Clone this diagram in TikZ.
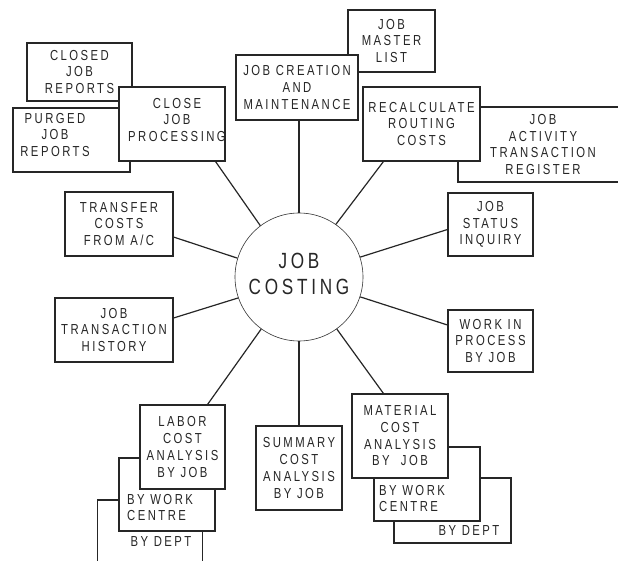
\documentclass[tikz,border=0pt]{standalone}
\usepackage{fontspec}
\newfontfamily\chartfont[LetterSpace=17,FakeStretch=0.78]{Liberation Sans}
\usetikzlibrary{positioning}

\begin{document}
\begin{tikzpicture}[x=1pt, y=-1pt,
    every node/.style={font=\chartfont\fontsize{14.5}{16.7}\selectfont, text=black!85},
    box/.style={draw=black!85, line width=1.1pt, fill=white, inner sep=0pt, align=center},
    txt/.style={align=center, inner sep=0pt},
    spoke/.style={draw=black!85, line width=1.2pt}]
  \useasboundingbox (0,0) rectangle (618,561);
  % hub
  \node[draw=black!80, line width=0.6pt, circle, minimum size=128pt, inner sep=0pt] (hub) at (299,277) {};
  \node[txt, font=\chartfont\fontsize{22}{26}\selectfont] (hubtxt) at (299,274) {JOB\\COSTING};
  % upper left
  \node[box, minimum width=105pt, minimum height=58pt] (closedrep) at (79.5,72) {CLOSED\\JOB\\REPORTS};
  \node[box, minimum width=117pt, minimum height=64pt] (purgedrep) at (71.5,140) {};
  \node[txt] (purgedtxt) at (55,135) {PURGED\\JOB\\REPORTS};
  \node[box, minimum width=106pt, minimum height=74pt] (closeproc) at (172,124) {};
  \node[txt] (closetxt) at (177,120) {CLOSE\\JOB\\PROCESSING};
  % top
  \node[box, minimum width=87pt, minimum height=62pt] (masterlist) at (391.5,41) {JOB\\MASTER\\LIST};
  \node[box, minimum width=122pt, minimum height=65pt] (creation) at (297,87.5) {JOB CREATION\\AND\\MAINTENANCE};
  \node[box, minimum width=170pt, minimum height=75pt] (register) at (543,144.5) {JOB\\ACTIVITY\\TRANSACTION\\REGISTER};
  \node[box, minimum width=117pt, minimum height=74pt] (recalc) at (421.5,124) {RECALCULATE\\ROUTING\\COSTS};
  % sides
  \node[box, minimum width=108pt, minimum height=64pt] (transfer) at (119,224) {TRANSFER\\COSTS\\FROM A/C};
  \node[box, minimum width=118pt, minimum height=64pt] (history) at (114,330) {JOB\\TRANSACTION\\HISTORY};
  \node[box, minimum width=85pt, minimum height=63pt] (status) at (490.5,224.5) {JOB\\STATUS\\INQUIRY};
  \node[box, minimum width=85pt, minimum height=62pt] (wip) at (490.5,341) {WORK IN\\PROCESS\\BY JOB};
  % labor stack
  \node[box, minimum width=105pt, minimum height=80pt] (labordept) at (150,540) {};
  \node[txt] (labordepttxt) at (161,542) {BY DEPT};
  \node[box, minimum width=96pt, minimum height=73pt] (laborcentre) at (167,494.5) {};
  \node[txt, align=left, anchor=west] (laborcentretxt) at (127,507.5) {BY WORK\\CENTRE};
  \node[box, minimum width=85pt, minimum height=84pt] (labor) at (182.5,447) {LABOR\\COST\\ANALYSIS\\BY JOB};
  % summary
  \node[box, minimum width=86pt, minimum height=84pt] (summary) at (299,468) {SUMMARY\\COST\\ANALYSIS\\BY JOB};
  % material stack
  \node[box, minimum width=117pt, minimum height=65pt] (matdept) at (452.5,510.5) {};
  \node[txt] (matdepttxt) at (469,531) {BY DEPT};
  \node[box, minimum width=106pt, minimum height=74pt] (matcentre) at (427,484) {};
  \node[txt, align=left, anchor=west] (matcentretxt) at (379,498.5) {BY WORK\\CENTRE};
  \node[box, minimum width=96pt, minimum height=84pt] (material) at (400,436) {MATERIAL\\COST\\ANALYSIS\\BY~~JOB};
  % spokes
  \draw[spoke] (hub.90) -- (hub.90 |- creation.south);
  \draw[spoke] (hub.127) -- ([xshift=-10pt]closeproc.south east);
  \draw[spoke] (hub.55) -- ([xshift=21pt]recalc.south west);
  \draw[spoke] (hub.163) -- ([yshift=-13pt]transfer.east);
  \draw[spoke] (hub.199) -- ([yshift=12pt]history.east);
  \draw[spoke] (hub.18) -- ([yshift=-5pt]status.west);
  \draw[spoke] (hub.-18) -- ([yshift=16pt]wip.west);
  \draw[spoke] (hub.270) -- (summary.north);
  \draw[spoke] (hub.234) -- ([xshift=-18pt]labor.north east);
  \draw[spoke] (hub.306) -- ([xshift=32pt]material.north west);
\end{tikzpicture}
\end{document}
